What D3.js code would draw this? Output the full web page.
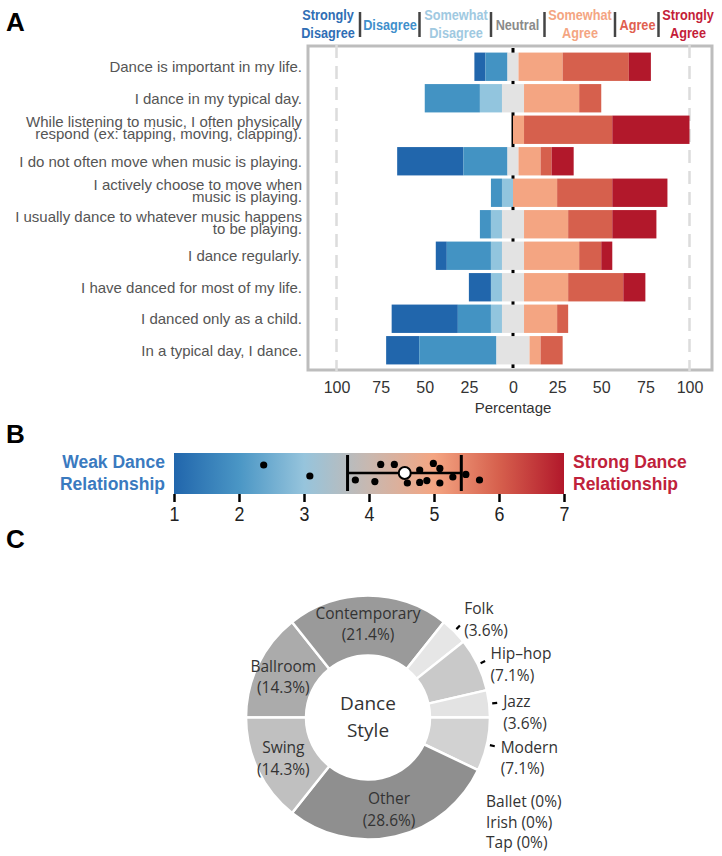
<!DOCTYPE html>
<html>
<head>
<meta charset="utf-8">
<script src="https://d3js.org/d3.v7.min.js"></script>
<style>
  body { margin: 0; background: #fff; }
</style>
</head>
<body>
<svg class="dancechart"></svg>
<script>
// ---- data ----

// A: likert items (percent of respondents per answer)
let statements = [
    "Dance is important in my life.",
    "I dance in my typical day.",
    "While listening to music, I often physically\nrespond (ex: tapping, moving, clapping).",
    "I do not often move when music is playing.",
    "I actively choose to move when\nmusic is playing.",
    "I usually dance to whatever music happens\nto be playing.",
    "I dance regularly.",
    "I have danced for most of my life.",
    "I danced only as a child.",
    "In a typical day, I dance."
];
let levels = ["Strongly Disagree", "Disagree", "Somewhat Disagree", "Neutral",
              "Somewhat Agree", "Agree", "Strongly Agree"];
let stronglyDisagree = [6.25, 0, 0, 37.5, 0, 0, 6.25, 12.5, 37.5, 18.75];
let disagree         = [12.5, 31.25, 0, 25, 6.25, 6.25, 25, 0, 18.75, 43.75];
let somewhatDisagree = [0, 12.5, 0, 0, 6.25, 6.25, 6.25, 6.25, 6.25, 0];
let neutral          = [6.25, 12.5, 0, 6.25, 0, 12.5, 12.5, 12.5, 12.5, 18.75];
let somewhatAgree    = [25, 31.25, 6.25, 12.5, 25, 25, 31.25, 25, 18.75, 6.25];
let agree            = [37.5, 12.5, 50, 6.25, 31.25, 25, 12.5, 31.25, 6.25, 12.5];
let stronglyAgree    = [12.5, 0, 43.75, 12.5, 31.25, 25, 6.25, 12.5, 0, 0];
let percentTicks = [-100, -75, -50, -25, 0, 25, 50, 75, 100];

// B: dance relationship scores
let scaleTicks = [1, 2, 3, 4, 5, 6, 7];
let scores = [2.38, 3.09, 3.79, 4.09, 4.18, 4.39, 4.59, 4.78, 4.78, 4.89,
              4.99, 5.09, 5.09, 5.29, 5.49, 5.70];
let scoreJitter = [-0.4, 0.15, 0.35, 0.43, -0.43, -0.43, 0.5, -0.15, 0.47, 0.38,
                   -0.48, -0.23, 0.5, 0.2, 0.07, 0.35];
let scoreLow = 3.67;
let scoreMean = 4.55;
let scoreHigh = 5.42;

// C: dance style shares
let styles = ["Ballet", "Ballroom", "Contemporary", "Folk", "Hip\u2013hop", "Irish",
              "Jazz", "Modern", "Other", "Swing", "Tap"];
let stylePercent = [0, 14.3, 21.4, 3.6, 7.1, 0, 3.6, 7.1, 28.6, 14.3, 0];

// ---- drawing ----
let w = 722;
let h = 856;

let svg = d3.select("svg.dancechart")
    .attr("width", w)
    .attr("height", h);

// panel letters
svg.selectAll("text.panel")
    .data([["A", 31], ["B", 443], ["C", 548]])
    .enter()
    .append("text")
    .attr("class", "panel")
    .attr("x", 6)
    .attr("y", d => d[1])
    .text(d => d[0])
    .attr("font-family", "Liberation Sans, Arial, sans-serif")
    .attr("font-weight", "bold")
    .attr("font-size", "26px");

// ================= A =================
let series = [stronglyDisagree, disagree, somewhatDisagree, neutral,
              somewhatAgree, agree, stronglyAgree];
let likertColors = ["#2166ac", "#4393c3", "#92c5de", "#e3e3e3", "#f4a582", "#d6604d", "#b2182b"];
let headerColors = ["#2f6eb5", "#3f8fcb", "#a0c9e1", "#8a8a8a", "#f4a582", "#e0604f", "#c41d38"];

let box = {left: 308, right: 712, top: 46, bottom: 370};

let x = d3.scaleLinear()
    .domain([-100, 100])
    .range([336.5, 689.5]);

let y = d3.scaleBand()
    .domain(statements)
    .range([51, 366])
    .paddingInner(0.1)
    .paddingOuter(0.05);

let panelA = svg.append("g").attr("class", "likert");

// plot frame
panelA.append("rect")
    .attr("x", box.left)
    .attr("y", box.top)
    .attr("width", box.right - box.left)
    .attr("height", box.bottom - box.top)
    .attr("fill", "white")
    .attr("stroke", "#bdbdbd")
    .attr("stroke-width", 3);

// dashed lines at +-100
panelA.selectAll("line.limit")
    .data([-100, 100])
    .enter()
    .append("line")
    .attr("class", "limit")
    .attr("x1", d => x(d))
    .attr("x2", d => x(d))
    .attr("y1", box.top - 1)
    .attr("y2", box.bottom + 1)
    .attr("stroke", "#dcdcdc")
    .attr("stroke-width", 2.5)
    .attr("stroke-dasharray", "13,8");

// zero line (shows between bars)
panelA.append("line")
    .attr("x1", x(0))
    .attr("x2", x(0))
    .attr("y1", box.top + 2)
    .attr("y2", box.bottom - 2)
    .attr("stroke", "black")
    .attr("stroke-width", 3);

// stack each row so neutral sits across zero
let segments = [];
statements.forEach((s, i) => {
    let start = -(series[0][i] + series[1][i] + series[2][i] + series[3][i] / 2);
    series.forEach((vals, k) => {
        segments.push({statement: s, level: k, x0: start, x1: start + vals[i]});
        start += vals[i];
    });
});

panelA.append("g")
    .attr("class", "bars")
    .selectAll("rect")
    .data(segments.filter(d => d.x1 > d.x0))
    .enter()
    .append("rect")
    .attr("x", d => x(d.x0))
    .attr("y", d => y(d.statement))
    .attr("width", d => x(d.x1) - x(d.x0))
    .attr("height", y.bandwidth())
    .attr("fill", d => likertColors[d.level]);

// statement labels
let rowLabels = panelA.append("g")
    .attr("class", "rowlabels")
    .selectAll("text")
    .data(statements)
    .enter()
    .append("text")
    .attr("x", 302)
    .attr("text-anchor", "end")
    .attr("font-family", "Liberation Sans, Arial, sans-serif")
    .attr("font-size", "15px")
    .attr("fill", "#555");

rowLabels.each(function(d) {
    let lines = d.split("\n");
    let mid = y(d) + y.bandwidth() / 2;
    let offsets = lines.length == 1 ? [1.5] : [-6.5, 5.5];
    lines.forEach((line, j) => {
        d3.select(this).append("tspan")
            .attr("x", 302)
            .attr("y", mid + offsets[j] + 4)
            .text(line);
    });
});

// percentage axis
let xAxis = panelA.append("g")
    .attr("transform", "translate(0," + box.bottom + ")")
    .call(d3.axisBottom(x)
        .tickValues(percentTicks)
        .tickFormat(d => Math.abs(d))
        .tickSize(0)
        .tickPadding(12));
xAxis.select(".domain").remove();
xAxis.selectAll("text")
    .attr("font-family", "Liberation Sans, Arial, sans-serif")
    .attr("font-size", "16px")
    .attr("fill", "#333");

panelA.append("text")
    .attr("x", x(0))
    .attr("y", 413)
    .attr("text-anchor", "middle")
    .attr("font-family", "Liberation Sans, Arial, sans-serif")
    .attr("font-size", "15px")
    .attr("fill", "#333")
    .text("Percentage");

// header legend over the plot (condensed bold, squeezed by hand)
let headerCenters = [328, 390, 456, 517.5, 580, 637.5, 688];
let headerSeps = [360, 419.5, 491, 544.5, 615, 658.5];

let header = panelA.append("g").attr("class", "header");
levels.forEach((lev, k) => {
    let words = lev.split(" ");
    let lines = words.length > 1 ? [words[0], words.slice(1).join(" ")] : [lev];
    let t = header.append("g")
        .attr("transform", "translate(" + headerCenters[k] + ",0) scale(0.82,1)")
        .append("text")
        .attr("text-anchor", "middle")
        .attr("font-family", "Liberation Sans, Arial, sans-serif")
        .attr("font-weight", "bold")
        .attr("font-size", "15.5px")
        .attr("fill", headerColors[k]);
    lines.forEach((line, j) => {
        t.append("tspan")
            .attr("x", 0)
            .attr("y", lines.length == 1 ? 30 : 20 + j * 18)
            .text(line);
    });
});
header.selectAll("line")
    .data(headerSeps)
    .enter()
    .append("line")
    .attr("x1", d => d)
    .attr("x2", d => d)
    .attr("y1", 12)
    .attr("y2", 37)
    .attr("stroke", "#444")
    .attr("stroke-width", 2.5);

// ================= B =================
let xs = d3.scaleLinear()
    .domain([1, 7])
    .range([174, 564]);
let barTop = 453;
let barBottom = 494;
let midY = 473;

let defs = svg.append("defs");
let grad = defs.append("linearGradient")
    .attr("id", "relgrad")
    .attr("x1", "0%").attr("x2", "100%")
    .attr("y1", "0%").attr("y2", "0%");
let gradColors = ["#2166ac", "#4a96c5", "#96c4dc", "#c8b8b0", "#f4a582", "#d6604d", "#b2182b"];
gradColors.forEach((c, i) => {
    grad.append("stop")
        .attr("offset", (i / (gradColors.length - 1) * 100) + "%")
        .attr("stop-color", c);
});

let panelB = svg.append("g").attr("class", "relationship");

panelB.append("rect")
    .attr("x", xs(1))
    .attr("y", barTop)
    .attr("width", xs(7) - xs(1))
    .attr("height", barBottom - barTop)
    .attr("fill", "url(#relgrad)");

let bAxis = panelB.append("g")
    .attr("transform", "translate(0," + barBottom + ")")
    .call(d3.axisBottom(xs)
        .tickValues(scaleTicks)
        .tickFormat(d3.format("d"))
        .tickSize(8)
        .tickPadding(4));
bAxis.select(".domain").remove();
bAxis.selectAll("line")
    .attr("stroke", "black")
    .attr("stroke-width", 2.5);
bAxis.selectAll("text")
    .attr("font-family", "Liberation Sans, Arial, sans-serif")
    .attr("font-size", "21px")
    .attr("fill", "#222")
    .attr("transform", "scale(0.85,1)");

// individual scores
panelB.selectAll("circle.score")
    .data(scores)
    .enter()
    .append("circle")
    .attr("class", "score")
    .attr("cx", d => xs(d))
    .attr("cy", (d, i) => midY + scoreJitter[i] * 20)
    .attr("r", 3.6)
    .attr("fill", "black");

// mean +- sd
panelB.append("line")
    .attr("x1", xs(scoreLow))
    .attr("x2", xs(scoreHigh))
    .attr("y1", midY)
    .attr("y2", midY)
    .attr("stroke", "black")
    .attr("stroke-width", 2.5);
panelB.selectAll("line.cap")
    .data([scoreLow, scoreHigh])
    .enter()
    .append("line")
    .attr("class", "cap")
    .attr("x1", d => xs(d))
    .attr("x2", d => xs(d))
    .attr("y1", 455)
    .attr("y2", 491)
    .attr("stroke", "black")
    .attr("stroke-width", 3);
panelB.append("circle")
    .attr("cx", xs(scoreMean))
    .attr("cy", midY)
    .attr("r", 6)
    .attr("fill", "white")
    .attr("stroke", "black")
    .attr("stroke-width", 2);

let endLabels = [
    {lines: ["Weak Dance", "Relationship"], x: 165, anchor: "end", color: "#3a7abf"},
    {lines: ["Strong Dance", "Relationship"], x: 573, anchor: "start", color: "#c0223b"}
];
endLabels.forEach(lab => {
    let t = panelB.append("text")
        .attr("text-anchor", lab.anchor)
        .attr("font-family", "Liberation Sans, Arial, sans-serif")
        .attr("font-weight", "bold")
        .attr("font-size", "17.5px")
        .attr("fill", lab.color);
    lab.lines.forEach((line, j) => {
        t.append("tspan")
            .attr("x", lab.x)
            .attr("y", 468 + j * 22)
            .text(line);
    });
});

// ================= C =================
let cx = 368;
let cy = 717.5;
let outerR = 122;
let innerR = 62;

let grays = d3.scaleOrdinal()
    .domain(styles)
    .range(["#ffffff", "#ababab", "#9a9a9a", "#e6e6e6", "#c9c9c9", "#ffffff",
            "#e3e3e3", "#d2d2d2", "#8f8f8f", "#c0c0c0", "#ffffff"]);

let styleData = styles.map((s, i) => ({style: s, value: stylePercent[i]}));
let pie = d3.pie()
    .sort(null)
    .value(d => d.value)
    .startAngle(-Math.PI / 2)
    .endAngle(1.5 * Math.PI);
let slices = pie(styleData.filter(d => d.value > 0));

let arc = d3.arc().innerRadius(innerR).outerRadius(outerR);
let labelArc = d3.arc().innerRadius(94).outerRadius(94);
let pct = d => "(" + d3.format(".1f")(d) + "%)";

let panelC = svg.append("g")
    .attr("class", "donut")
    .attr("transform", "translate(" + cx + "," + cy + ")");

panelC.selectAll("path")
    .data(slices)
    .enter()
    .append("path")
    .attr("d", arc)
    .attr("fill", d => grays(d.data.style))
    .attr("stroke", "white")
    .attr("stroke-width", 2.5);

let cFont = "Open Sans, Noto Sans, sans-serif";

// big slices: label inside
slices.filter(d => d.data.value >= 10).forEach(d => {
    let c = labelArc.centroid(d);
    let t = panelC.append("text")
        .attr("text-anchor", "middle")
        .attr("font-family", cFont)
        .attr("font-size", "15.5px")
        .attr("fill", "#333");
    [d.data.style, pct(d.data.value)].forEach((line, j) => {
        t.append("tspan")
            .attr("x", c[0])
            .attr("y", c[1] - 5 + j * 21.5)
            .text(line);
    });
});

// small slices: label outside with a short leader
slices.filter(d => d.data.value < 10).forEach(d => {
    let a = (d.startAngle + d.endAngle) / 2;
    let sx = Math.sin(a);
    let sy = -Math.cos(a);
    panelC.append("line")
        .attr("x1", sx * 125).attr("y1", sy * 125)
        .attr("x2", sx * 130).attr("y2", sy * 130)
        .attr("stroke", "black")
        .attr("stroke-width", 2.2);
    let lift = Math.max(0, Math.cos(a) - 0.3) * 30;
    let t = panelC.append("text")
        .attr("font-family", cFont)
        .attr("font-size", "15.5px")
        .attr("fill", "#333");
    [d.data.style, pct(d.data.value)].forEach((line, j) => {
        t.append("tspan")
            .attr("x", sx * 136)
            .attr("y", sy * 136 - lift + 5 + j * 21.5)
            .text(line);
    });
});

// empty styles listed below
panelC.append("text")
    .attr("font-family", cFont)
    .attr("font-size", "15.5px")
    .attr("fill", "#333")
    .selectAll("tspan")
    .data(styleData.filter(d => d.value == 0))
    .enter()
    .append("tspan")
    .attr("x", 118)
    .attr("y", (d, i) => 89.5 + i * 20.7)
    .text(d => d.style + " (0%)");

// centre title
panelC.append("text")
    .attr("text-anchor", "middle")
    .attr("font-family", cFont)
    .attr("font-size", "19px")
    .attr("fill", "#333")
    .selectAll("tspan")
    .data(["Dance", "Style"])
    .enter()
    .append("tspan")
    .attr("x", 0)
    .attr("y", (d, i) => -7.5 + i * 27)
    .text(d => d);
</script>
</body>
</html>
